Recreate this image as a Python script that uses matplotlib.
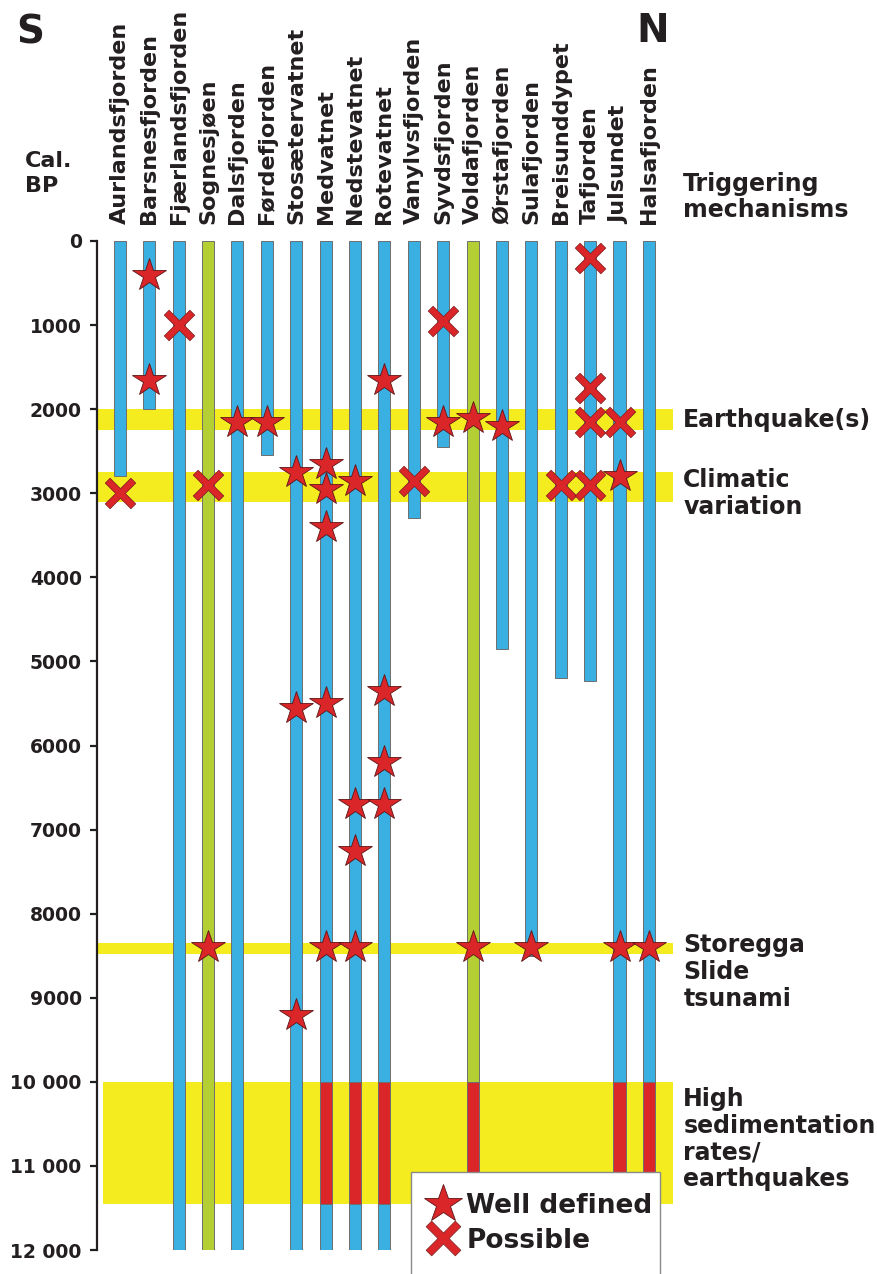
import matplotlib
matplotlib.use("Agg")
import numpy as np
import matplotlib.pyplot as plt
from matplotlib.lines import Line2D
from matplotlib.patches import Rectangle
from matplotlib.path import Path
from matplotlib.transforms import blended_transform_factory

# cores, south -> north
cores = ["Aurlandsfjorden", "Barsnesfjorden", "Fjærlandsfjorden", "Sognesjøen",
         "Dalsfjorden", "Førdefjorden", "Stosætervatnet", "Medvatnet",
         "Nedstevatnet", "Rotevatnet", "Vanylvsfjorden", "Syvdsfjorden",
         "Voldafjorden", "Ørstafjorden", "Sulafjorden", "Breisunddypet",
         "Tafjorden", "Julsundet", "Halsafjorden"]
core_base = [2800, 2000, 12000, 12000, 12000, 2550, 12000, 12000, 12000, 12000,
             3300, 2450, 12000, 4850, 8500, 5200, 5230, 12000, 12000]
green_cores = ["Sognesjøen", "Voldafjorden"]
red_cores = ["Medvatnet", "Nedstevatnet", "Rotevatnet", "Voldafjorden",
             "Julsundet", "Halsafjorden"]
red_top, red_bottom = 10000, 11450

# events (cal. BP)
well_core = ["Barsnesfjorden", "Barsnesfjorden", "Sognesjøen", "Dalsfjorden",
             "Førdefjorden", "Stosætervatnet", "Stosætervatnet", "Stosætervatnet",
             "Medvatnet", "Medvatnet", "Medvatnet", "Medvatnet", "Medvatnet",
             "Nedstevatnet", "Nedstevatnet", "Nedstevatnet", "Nedstevatnet",
             "Rotevatnet", "Rotevatnet", "Rotevatnet", "Rotevatnet",
             "Syvdsfjorden", "Voldafjorden", "Voldafjorden", "Ørstafjorden",
             "Sulafjorden", "Julsundet", "Julsundet", "Halsafjorden"]
well_age = [400, 1650, 8400, 2150,
            2150, 2750, 5550, 9200,
            2650, 2950, 3400, 5500, 8400,
            2850, 6700, 7250, 8400,
            1650, 5350, 6200, 6700,
            2150, 2100, 8400, 2200,
            8400, 2800, 8400, 8400]
poss_core = ["Aurlandsfjorden", "Fjærlandsfjorden", "Sognesjøen", "Vanylvsfjorden",
             "Syvdsfjorden", "Breisunddypet", "Tafjorden", "Tafjorden",
             "Tafjorden", "Tafjorden", "Julsundet"]
poss_age = [3000, 1000, 2900, 2850,
            950, 2900, 200, 1750,
            2150, 2900, 2150]

# triggering mechanisms (bands)
band_names = ["Earthquake(s)", "Climatic\nvariation", "Storegga\nSlide\ntsunami",
              "High\nsedimentation\nrates/\nearthquakes"]
band_top = [2000, 2750, 8350, 10000]
band_bottom = [2250, 3100, 8480, 11450]
band_label_y = [2125, 2700, 8230, 10060]
band_label_va = ["center", "top", "top", "top"]

ticks = [0, 1000, 2000, 3000, 4000, 5000, 6000, 7000, 8000, 9000, 10000, 11000, 12000]
tick_labels = ["0", "1000", "2000", "3000", "4000", "5000", "6000", "7000", "8000",
               "9000", "10 000", "11 000", "12 000"]

BLUE = "#3ab0e2"
GREEN = "#b3cf33"
RED = "#da2529"
YELLOW = "#f4ec1f"
TXT = "#231f20"
EDGE = "#6d6e70"

# slim diagonal cross marker
a = 0.19
plus = np.array([(a, a), (1, a), (1, -a), (a, -a), (a, -1), (-a, -1), (-a, -a),
                 (-1, -a), (-1, a), (-a, a), (-a, 1), (a, 1), (a, a)])
c45 = np.cos(np.pi / 4)
rot = np.array([[c45, -c45], [c45, c45]])
cross = Path(plus @ rot.T, closed=True)

plt.rcParams["font.family"] = "DejaVu Sans"
plt.rcParams["font.weight"] = "bold"

fig = plt.figure(figsize=(8.78, 12.74), dpi=100)
W, H = 878, 1274
ax = fig.add_axes([97 / W, 1 - 1250 / H, 576 / W, 1009 / H])
ax.set_xlim(-0.78, 18.82)
ax.set_ylim(12000, 0)

pos = {c: i for i, c in enumerate(cores)}

# bands
for i in range(len(band_top)):
    xmin = 0.01 if i == 3 else 0.0
    ax.axhspan(band_top[i], band_bottom[i], xmin=xmin, xmax=1.0, color=YELLOW, lw=0, zorder=1)

# core columns
bw = 0.41
for c, base in zip(cores, core_base):
    col = GREEN if c in green_cores else BLUE
    ax.bar(pos[c], base, bottom=0, width=bw, color=col, edgecolor=EDGE, linewidth=0.7, zorder=2)
    if c in red_cores:
        ax.bar(pos[c], red_bottom - red_top, bottom=red_top, width=bw, color=RED,
               edgecolor=EDGE, linewidth=0.7, zorder=2.1)

# events
ax.plot([pos[c] for c in poss_core], poss_age, ls="none", marker=cross, ms=22,
        mfc=RED, mec="#7a1f1f", mew=0.5, zorder=3, clip_on=False)
ax.plot([pos[c] for c in well_core], well_age, ls="none", marker="*", ms=25,
        mfc=RED, mec="#5e1515", mew=0.6, zorder=4, clip_on=False)

# column names
for c in cores:
    ax.text(pos[c], -200, c, rotation=90, ha="center", va="bottom", fontsize=16,
            fontweight="bold", color=TXT, clip_on=False)

# axis styling
for s in ["top", "right", "bottom"]:
    ax.spines[s].set_visible(False)
ax.spines["left"].set_linewidth(1.6)
ax.spines["left"].set_color(TXT)
ax.set_xticks([])
ax.set_yticks(ticks)
ax.set_yticklabels(tick_labels, fontsize=13.5, fontweight="bold", color=TXT)
ax.tick_params(axis="y", length=5, width=1.6, color=TXT, pad=6)

# band labels
tr = blended_transform_factory(ax.transAxes, ax.transData)
for name, y, va in zip(band_names, band_label_y, band_label_va):
    ax.text(1.018, y, name, transform=tr, ha="left", va=va, fontsize=17,
            fontweight="bold", color=TXT, linespacing=1.15, clip_on=False)

ax.text(1.018, -225, "Triggering\nmechanisms", transform=tr, ha="left", va="bottom",
        fontsize=17, fontweight="bold", color=TXT, linespacing=1.1, clip_on=False)
fig.text(25 / W, 1 - 196 / H, "Cal.\nBP", ha="left", va="bottom", fontsize=16,
         fontweight="bold", color=TXT, linespacing=1.3)
fig.text(16 / W, 1 - 43 / H, "S", ha="left", va="baseline", fontsize=28,
         fontweight="bold", color=TXT)
fig.text(636 / W, 1 - 42 / H, "N", ha="left", va="baseline", fontsize=28,
         fontweight="bold", color=TXT)

# legend box (runs off the bottom edge)
fig.patches.append(Rectangle((411 / W, -0.02), 249 / W, (1274 - 1172) / H + 0.02,
                             transform=fig.transFigure, facecolor="white",
                             edgecolor="#8a8a8a", linewidth=1.0, zorder=5))
handles = [Line2D([], [], ls="none", marker="*", ms=29, mfc=RED, mec="#5e1515", mew=0.6),
           Line2D([], [], ls="none", marker=cross, ms=25, mfc=RED, mec="#7a1f1f", mew=0.5)]
leg = fig.legend(handles, ["Well defined", "Possible"], loc="upper left",
                 bbox_to_anchor=(411 / W, 1 - 1176 / H), frameon=False,
                 prop={"size": 19, "weight": "bold"}, handlelength=1.1,
                 handletextpad=0.35, labelspacing=0.32, borderpad=0.15)
leg.set_zorder(6)
for t in leg.get_texts():
    t.set_color(TXT)

fig.savefig("out.png", dpi=100)
